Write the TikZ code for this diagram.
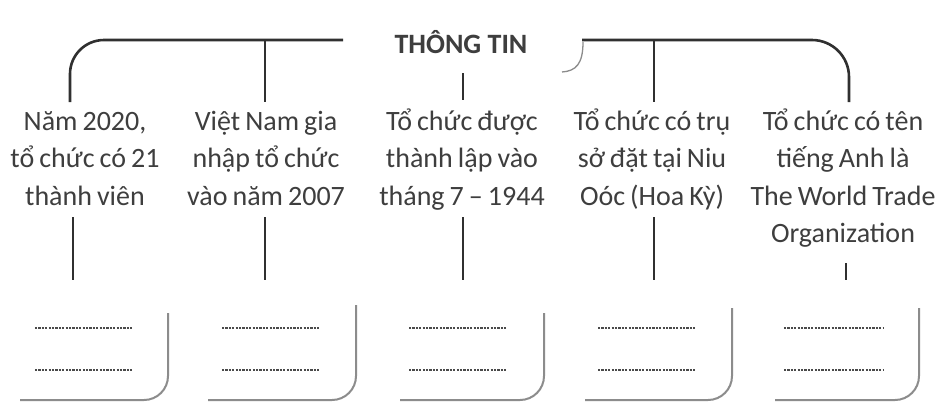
\documentclass[tikz,border=0pt]{standalone}
\usepackage{fontspec}
\setmainfont{Carlito}[WordSpace=0.8]
\newfontfamily\ttlfont{Carlito}
\definecolor{txt}{HTML}{3E3E3E}
\definecolor{ln}{HTML}{303030}
\definecolor{sh}{HTML}{8C8C8C}
\definecolor{dt}{HTML}{4A4A4A}
\begin{document}
\begin{tikzpicture}[x=1bp,y=-1bp,
  lbl/.style={font=\fontsize{28bp}{37.5bp}\selectfont, text=txt, align=flush center, text width=220bp, inner sep=0pt, anchor=base},
  ttl/.style={font=\ttlfont\fontsize{28bp}{30bp}\selectfont\bfseries, text=txt, inner sep=0pt, anchor=base},
  conn/.style={draw=ln, line width=2.6bp},
  boxline/.style={draw=sh, line width=2bp, rounded corners=24bp},
  dotrow/.style={draw=dt, line width=2.4bp, dash pattern=on 2.2bp off 1.2bp}]
\useasboundingbox[fill=white] (0,0) rectangle (944,417);

% title
\node[ttl] (t) at (461,53) {THÔNG TIN};

% labels
\node[lbl] (c1) at (85,130) {Năm 2020,\\tổ chức có 21\\thành viên};
\node[lbl] (c2) at (266,130) {Việt Nam gia\\nhập tổ chức\\vào năm 2007};
\node[lbl] (c3) at (462,130) {Tổ chức được\\thành lập vào\\tháng 7 – 1944};
\node[lbl] (c4) at (652,130) {Tổ chức có trụ\\sở đặt tại Niu\\Oóc (Hoa Kỳ)};
\node[lbl] (c5) at (843,130) {Tổ chức có tên\\tiếng Anh là\\The World Trade\\Organization};

% bracket coordinates
\coordinate (la) at (343,40);
\coordinate (lc) at (70,40);
\coordinate (lb) at (70,102);
\coordinate (ma) at (265,40);
\coordinate (mb) at (265,102);
\coordinate (ra) at (582,40);
\coordinate (rc) at (849,40);
\coordinate (rb) at (849,102);
\coordinate (na) at (654,40);
\coordinate (nb) at (654,102);
\coordinate (ta) at (463,73);
\coordinate (tb) at (463,100);
\coordinate (ha) at (583,42);
\coordinate (hb) at (562,72);

\draw[conn, rounded corners=34bp] (la) -- (lc) -- (lb);
\draw[conn] (ma) -- (mb);
\draw[conn, rounded corners=37bp] (ra) -- (rc) -- (rb);
\draw[conn] (na) -- (nb);
\draw[conn] (ta) -- (tb);
\draw[draw=sh, line width=1.3bp] (ha) .. controls (583,64) and (576,71) .. (hb);

% lower ticks
\foreach \i/\x/\ya in {1/73/217, 2/265/217, 3/463/217, 4/654/217, 5/846/263}{
  \coordinate (u\i) at (\x,\ya);
  \coordinate (v\i) at (\x,280);
  \draw[conn] (u\i) -- (v\i);
}

% answer boxes (right and bottom edges)
\foreach \i/\xr/\yt/\xl in {1/168/313/20, 2/356/305/208, 3/544/313/400, 4/732/308/585, 5/919/308/775}{
  \coordinate (b\i t) at (\xr,\yt);
  \coordinate (b\i c) at (\xr,400);
  \coordinate (b\i l) at (\xl,400);
  \draw[boxline] (b\i t) -- (b\i c) -- (b\i l);
}

% dotted answer rows
\foreach \i/\xa/\xb in {1/35/133, 2/222/320, 3/409/507, 4/598/695, 5/784/884}{
  \coordinate (p\i a) at (\xa,328);
  \coordinate (p\i b) at (\xb,328);
  \coordinate (q\i a) at (\xa,370);
  \coordinate (q\i b) at (\xb,370);
  \draw[dotrow] (p\i a) -- (p\i b);
  \draw[dotrow] (q\i a) -- (q\i b);
}
\end{tikzpicture}
\end{document}
